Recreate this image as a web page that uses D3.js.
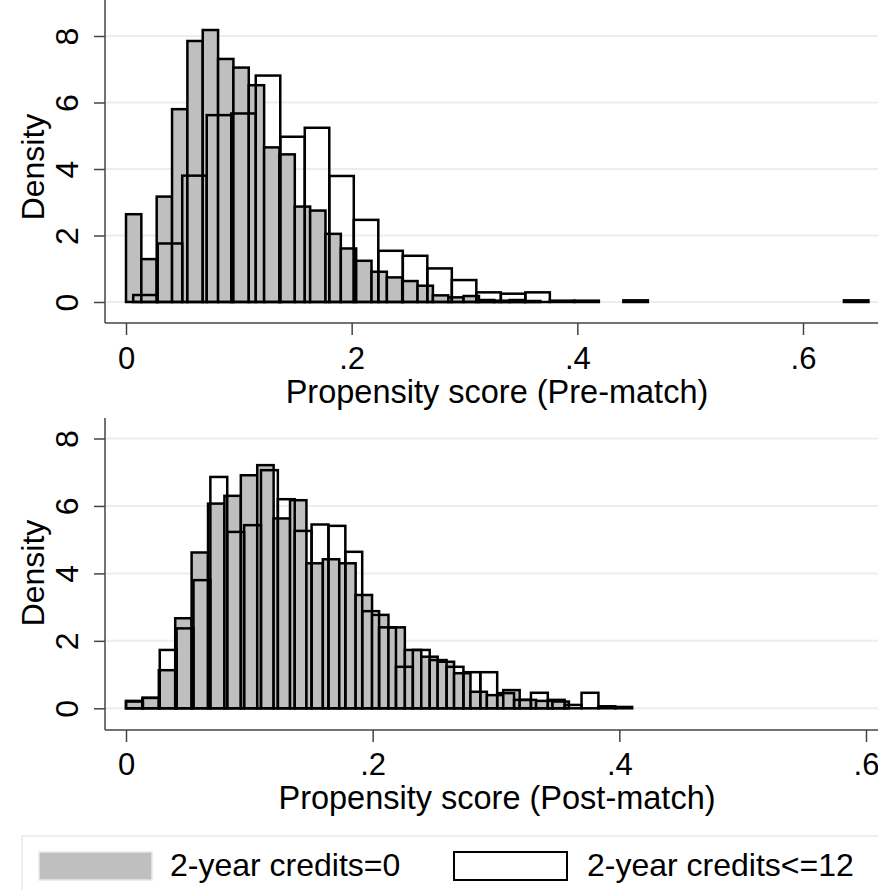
<!DOCTYPE html>
<html>
<head>
<meta charset="utf-8">
<script src="https://cdn.jsdelivr.net/npm/d3@7"></script>
<style>
  body { margin: 0; background: #fff; }
  svg { display: block; font-family: "Liberation Sans", Arial, sans-serif; }
</style>
</head>
<body>
<div id="chart"></div>
<script>
// top panel (pre-match) histograms
let preControlStart = 0, preControlWidth = 0.0136;
let preControl = [2.64, 1.29, 3.17, 5.80, 7.85, 8.18, 7.31, 7.05, 6.52, 4.65,
                  4.44, 2.87, 2.75, 2.05, 1.61, 1.24, 0.91, 0.74, 0.63, 0.49,
                  0.20, 0.14, 0.18, 0.06, 0.04, 0.06, 0.03];
let preTreatStart = 0.0064, preTreatWidth = 0.02172;
let preTreat = [0.21, 1.76, 3.80, 5.62, 5.67, 6.81, 4.97, 5.24, 3.79, 2.47,
                1.54, 1.39, 1.01, 0.66, 0.29, 0.25, 0.29, 0.04, 0.04, 0,
                0.05, 0, 0, 0, 0, 0, 0, 0, 0, 0.05];

// bottom panel (post-match) histograms
let postControlStart = 0, postControlWidth = 0.0133;
let postControl = [0.22, 0.31, 1.13, 2.67, 4.62, 6.07, 6.30, 6.91, 7.21, 5.63,
                   6.17, 4.30, 4.42, 4.30, 3.36, 2.77, 2.40, 1.73, 1.53, 1.38,
                   1.04, 0.49, 0.39, 0.54, 0.25, 0.22, 0.20];
let postTreatStart = 0, postTreatWidth = 0.01368;
let postTreat = [0.20, 0.31, 1.73, 2.37, 3.80, 6.86, 5.23, 5.43, 7.06, 6.20,
                 5.26, 5.45, 5.41, 4.64, 2.88, 2.40, 1.23, 1.73, 1.43, 1.23,
                 1.07, 1.07, 0.45, 0.25, 0.46, 0.25, 0.10, 0.46, 0.06, 0.04];

let yTicks = [0, 2, 4, 6, 8];
let xTicks = [0, 0.2, 0.4, 0.6];
let legendLabels = ["2-year credits=0", "2-year credits<=12"];

let width = 878, height = 890;
let grayFill = "#bfbfbf", gridColor = "#e7eff0", axisColor = "#444";

let svg = d3.select("#chart").append("svg")
    .attr("width", width)
    .attr("height", height);

let fmt = d => d === 0 ? "0" : d3.format(".1f")(d).replace(/^0/, "");

function bins(values, start, w) {
    return values.map((v, i) => ({x0: start + i * w, x1: start + (i + 1) * w, v: v}))
        .filter(d => d.v > 0);
}

function panel(cfg) {
    let x = d3.scaleLinear().domain([0, 0.6]).range(cfg.xRange);
    let y = d3.scaleLinear().domain([0, 8]).range(cfg.yRange);
    let g = svg.append("g");

    // gridlines
    g.selectAll(".grid")
        .data(yTicks)
        .join("line")
        .attr("x1", cfg.left + 1).attr("x2", width)
        .attr("y1", d => y(d)).attr("y2", d => y(d))
        .attr("stroke", gridColor).attr("stroke-width", 2);

    // control bars (gray)
    g.selectAll(".ctrl")
        .data(bins(cfg.control, cfg.controlStart, cfg.controlWidth))
        .join("rect")
        .attr("x", d => x(d.x0))
        .attr("width", d => x(d.x1) - x(d.x0))
        .attr("y", d => y(d.v))
        .attr("height", d => y(0) - y(d.v))
        .attr("fill", grayFill)
        .attr("stroke", "#000")
        .attr("stroke-width", 2.5);

    // treated bars (hollow)
    g.selectAll(".treat")
        .data(bins(cfg.treat, cfg.treatStart, cfg.treatWidth))
        .join("rect")
        .attr("x", d => x(d.x0))
        .attr("width", d => x(d.x1) - x(d.x0))
        .attr("y", d => y(d.v))
        .attr("height", d => y(0) - y(d.v))
        .attr("fill", "none")
        .attr("stroke", "#000")
        .attr("stroke-width", 2.5);

    // axis lines
    g.append("line")
        .attr("x1", cfg.left).attr("x2", cfg.left)
        .attr("y1", cfg.top).attr("y2", cfg.bottom)
        .attr("stroke", axisColor).attr("stroke-width", 1.5);
    g.append("line")
        .attr("x1", cfg.left).attr("x2", width)
        .attr("y1", cfg.bottom).attr("y2", cfg.bottom)
        .attr("stroke", axisColor).attr("stroke-width", 1.5);

    // y axis
    let ya = g.append("g")
        .attr("transform", `translate(${cfg.left},0)`)
        .call(d3.axisLeft(y).tickValues(yTicks).tickSize(11).tickSizeOuter(0).tickFormat(d3.format("d")));
    ya.select(".domain").remove();
    ya.selectAll(".tick line").attr("stroke", axisColor).attr("stroke-width", 1.5);
    ya.selectAll(".tick text")
        .attr("transform", "rotate(-90)")
        .attr("x", 0).attr("y", -27).attr("dy", 0)
        .attr("text-anchor", "middle")
        .attr("fill", "#000")
        .style("font-size", "32px");

    // x axis
    let xa = g.append("g")
        .attr("transform", `translate(0,${cfg.bottom})`)
        .call(d3.axisBottom(x).tickValues(xTicks).tickSize(12).tickSizeOuter(0).tickFormat(fmt));
    xa.select(".domain").remove();
    xa.selectAll(".tick line").attr("stroke", axisColor).attr("stroke-width", 1.5);
    xa.selectAll(".tick text")
        .attr("y", cfg.tickLabelY - cfg.bottom).attr("dy", 0)
        .attr("fill", "#000")
        .style("font-size", "31px");

    g.append("text")
        .attr("transform", `translate(44,${cfg.densityY}) rotate(-90)`)
        .attr("text-anchor", "middle")
        .style("font-size", "32px")
        .text("Density");

    g.append("text")
        .attr("x", 497).attr("y", cfg.titleY)
        .attr("text-anchor", "middle")
        .style("font-size", "32.5px")
        .text(cfg.title);
}

panel({
    xRange: [126, 803], yRange: [302, 36],
    left: 105, top: 0, bottom: 323,
    control: preControl, controlStart: preControlStart, controlWidth: preControlWidth,
    treat: preTreat, treatStart: preTreatStart, treatWidth: preTreatWidth,
    tickLabelY: 369, titleY: 403, densityY: 167,
    title: "Propensity score (Pre-match)"
});

panel({
    xRange: [126, 866], yRange: [708.3, 438.5],
    left: 105, top: 418, bottom: 730,
    control: postControl, controlStart: postControlStart, controlWidth: postControlWidth,
    treat: postTreat, treatStart: postTreatStart, treatWidth: postTreatWidth,
    tickLabelY: 775, titleY: 809, densityY: 573,
    title: "Propensity score (Post-match)"
});

// legend
let lg = svg.append("g");
lg.append("rect")
    .attr("x", 22).attr("y", 836).attr("width", 870).attr("height", 70)
    .attr("fill", "#fff").attr("stroke", "#e3eaea").attr("stroke-width", 1.5);
lg.append("rect")
    .attr("x", 39).attr("y", 852).attr("width", 113).attr("height", 28)
    .attr("fill", grayFill).attr("stroke", "#e3eaea").attr("stroke-width", 1.5);
lg.append("rect")
    .attr("x", 454).attr("y", 852).attr("width", 113).attr("height", 28)
    .attr("fill", "#fff").attr("stroke", "#000").attr("stroke-width", 2);
lg.selectAll(".lab")
    .data(legendLabels)
    .join("text")
    .attr("x", (d, i) => i === 0 ? 170 : 587)
    .attr("y", 876)
    .style("font-size", "32px")
    .text(d => d);
</script>
</body>
</html>
